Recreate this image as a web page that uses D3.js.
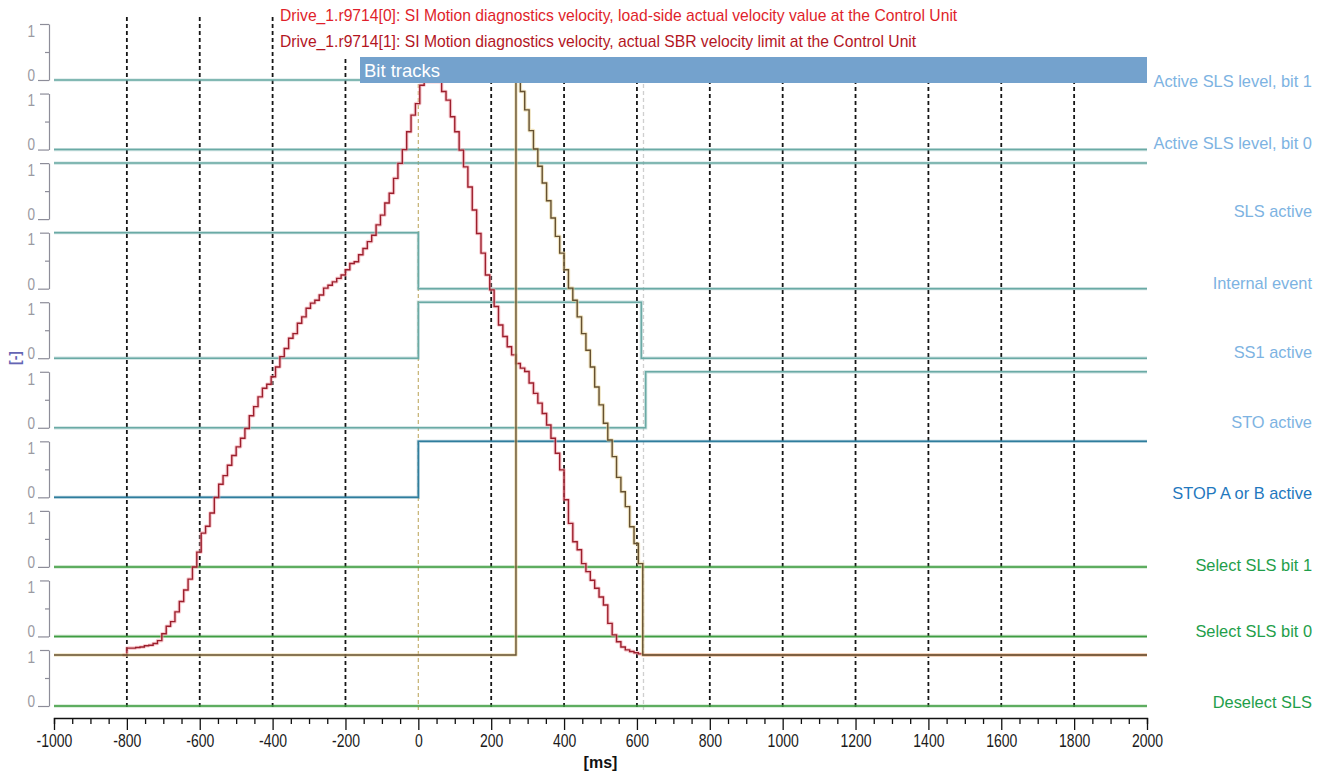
<!DOCTYPE html>
<html>
<head>
<meta charset="utf-8">
<script src="https://cdn.jsdelivr.net/npm/d3@7"></script>
<style>
  html, body { margin: 0; padding: 0; background: #ffffff; }
  svg { display: block; }
</style>
</head>
<body>
<svg id="chart" width="1322" height="773"></svg>
<script>
// ---- Time axis -------------------------------------------------------------
const timeDomain = [-1000, 2000];
const majorTicks = [-1000, -800, -600, -400, -200, 0, 200, 400, 600, 800, 1000, 1200, 1400, 1600, 1800, 2000];
const gridTimes = [-800, -600, -400, -200, 200, 400, 600, 800, 1000, 1200, 1400, 1600, 1800];
const triggerTime = 0;
const cursorTime = 618;

// ---- Bit tracks (top to bottom): [time ms, state] switching points ----------
const trackNames = [
  "Active SLS level, bit 1",
  "Active SLS level, bit 0",
  "SLS active",
  "Internal event",
  "SS1 active",
  "STO active",
  "STOP A or B active",
  "Select SLS bit 1",
  "Select SLS bit 0",
  "Deselect SLS"
];
const bitActiveSlsLevel1 = [[-1000, 0]];
const bitActiveSlsLevel0 = [[-1000, 0]];
const bitSlsActive       = [[-1000, 1]];
const bitInternalEvent   = [[-1000, 1], [0, 0]];
const bitSs1Active       = [[-1000, 0], [0, 1], [612, 0]];
const bitStoActive       = [[-1000, 0], [624, 1]];
const bitStopAorB        = [[-1000, 0], [0, 1]];
const bitSelectSlsBit1   = [[-1000, 0]];
const bitSelectSlsBit0   = [[-1000, 0]];
const bitDeselectSls     = [[-1000, 0]];
const trackSteps = [bitActiveSlsLevel1, bitActiveSlsLevel0, bitSlsActive, bitInternalEvent,
  bitSs1Active, bitStoActive, bitStopAorB, bitSelectSlsBit1, bitSelectSlsBit0, bitDeselectSls];

// ---- Velocity traces, sampled every 12 ms (percent of display range) --------
const SAMPLE_MS = 12;
const actualVelocityStart = -812;   // r9714[0]: load-side actual velocity
const actualVelocity = [0,
  1.2, 1.2, 1.3, 1.4, 1.6, 1.7, 2.0, 2.5, 3.7, 5.0,
  5.8, 7.5, 9.3, 11.3, 13.2, 15.3, 17.9, 21.2, 22.4, 24.7,
  27.4, 29.7, 31.2, 33.0, 34.7, 36.2, 37.7, 39.4, 41.6, 43.2,
  44.9, 46.4, 47.1, 48.4, 50.1, 51.9, 53.3, 55.1, 55.9, 57.7,
  58.8, 60.3, 61.2, 61.7, 62.6, 63.8, 64.3, 64.9, 65.5, 66.1,
  67.0, 68.1, 68.4, 69.6, 70.7, 71.9, 73.0, 74.8, 76.5, 78.6,
  80.3, 82.9, 85.5, 87.9, 91.0, 93.9, 95.9, 99.1, 99.7, 99.7,
  99.7, 99.7, 98.0, 96.5, 93.6, 91.0, 87.8, 84.9, 81.4, 77.4,
  73.3, 69.9, 66.1, 63.5, 60.6, 57.4, 55.4, 53.6, 52.2, 50.7,
  49.9, 49.3, 47.3, 45.5, 43.8, 42.0, 40.0, 37.7, 35.1, 32.2,
  27.0, 22.9, 19.7, 18.3, 15.9, 14.5, 13.0, 11.6, 10.1, 8.7,
  5.5, 3.5, 2.3, 1.4, 0.9, 0.6, 0.4, 0.2, 0
];
const sbrLimitStart = 268;          // r9714[1]: actual SBR velocity limit
const sbrLimit = [
  101.4, 98.0, 94.8, 91.2, 88.0, 85.0, 82.1, 79.0, 76.0, 72.8,
  69.9, 67.0, 63.8, 61.7, 58.8, 55.9, 53.0, 50.1, 46.6, 43.5,
  40.3, 37.4, 34.5, 30.9, 28.4, 25.8, 22.3, 19.4, 15.9, 0
];

const legendLines = [
  "Drive_1.r9714[0]: SI Motion diagnostics velocity, load-side actual velocity value at the Control Unit",
  "Drive_1.r9714[1]: SI Motion diagnostics velocity, actual SBR velocity limit at the Control Unit"
];

// ---- Layout ------------------------------------------------------------------
const plotLeft = 54, plotRight = 1147, gridTop = 17, gridBottom = 710, axisY = 718;
const TRACK_SPAN = 56;
const labelNudge = [1.5, -6, -8, -5.7, -5.7, -5.3, -4.3, -1.9, -5.4, -3.5];
const trackColors = ["#6aaaa5", "#6aaaa5", "#6aaaa5", "#6aaaa5", "#6aaaa5", "#6aaaa5",
  "#2f7d9d", "#3f9d42", "#3f9d42", "#3f9d42"];
const labelColors = ["#7db3e2", "#7db3e2", "#7db3e2", "#7db3e2", "#7db3e2", "#7db3e2",
  "#1f78be", "#1e9e4a", "#1e9e4a", "#1e9e4a"];
const sansFont = "'Liberation Sans', Arial, sans-serif";
const NARROW = "scale(0.8,1)";

const svg = d3.select("#chart");
const x = d3.scaleLinear().domain(timeDomain).range([plotLeft, plotRight]);
const trackZero = d3.scaleLinear().domain([0, trackNames.length - 1]).range([80, 706]);
const vel = d3.scaleLinear().domain([0, 100]).range([655, 80]);

// ---- Dashed time grid ------------------------------------------------------------
svg.append("g").selectAll("line").data(gridTimes).join("line")
  .attr("x1", d => x(d)).attr("x2", d => x(d))
  .attr("y1", gridTop).attr("y2", gridBottom)
  .attr("stroke", "#151515").attr("stroke-width", 1.8)
  .attr("stroke-dasharray", "4,3");

// trigger and cursor markers
svg.append("line")
  .attr("x1", x(triggerTime)).attr("x2", x(triggerTime))
  .attr("y1", 84).attr("y2", gridBottom)
  .attr("stroke", "#c9b67a").attr("stroke-width", 1.3).attr("stroke-dasharray", "4,3");
svg.append("line")
  .attr("x1", x(cursorTime)).attr("x2", x(cursorTime))
  .attr("y1", 84).attr("y2", gridBottom)
  .attr("stroke", "#cfcfcf").attr("stroke-width", 1.3).attr("stroke-dasharray", "4,3");

// ---- Bit track signals -------------------------------------------------------------
const stepLine = d3.line().curve(d3.curveStepAfter);
const tracksG = svg.append("g");
trackSteps.forEach((steps, i) => {
  const z = trackZero(i);
  const pts = steps.map(([t, s]) => [x(t), z - s * TRACK_SPAN]);
  pts.push([x(timeDomain[1]), z - steps[steps.length - 1][1] * TRACK_SPAN]);
  tracksG.append("path").attr("d", stepLine(pts))
    .attr("fill", "none").attr("stroke", trackColors[i])
    .attr("stroke-opacity", 0.35).attr("stroke-width", 3.2);
  tracksG.append("path").attr("d", stepLine(pts))
    .attr("fill", "none").attr("stroke", trackColors[i]).attr("stroke-width", 1.5);
});

// ---- Velocity traces ---------------------------------------------------------------
function sampled(start, values) {
  return values.map((v, k) => ({ t: start + k * SAMPLE_MS, v }));
}
const actualPts = sampled(actualVelocityStart, actualVelocity);
actualPts.push({ t: timeDomain[1], v: 0 });
const sbrPts = [{ t: timeDomain[0], v: 0 }].concat(sampled(sbrLimitStart, sbrLimit));
sbrPts.push({ t: timeDomain[1], v: 0 });

const velLine = d3.line().curve(d3.curveStepAfter).x(d => x(d.t)).y(d => vel(d.v));
const velG = svg.append("g");
function drawTrace(pts, halo, core) {
  velG.append("path").attr("d", velLine(pts)).attr("fill", "none")
    .attr("stroke", halo).attr("stroke-opacity", 0.55).attr("stroke-width", 3.6)
    .attr("stroke-linejoin", "round");
  velG.append("path").attr("d", velLine(pts)).attr("fill", "none")
    .attr("stroke", core).attr("stroke-width", 1.4);
}
drawTrace(actualPts, "#f4a3ab", "#9c1f2d");
drawTrace(sbrPts, "#e6cf92", "#655030");

// ---- Legend and "Bit tracks" header --------------------------------------------------
svg.append("rect").attr("x", 276).attr("y", 0).attr("width", 874).attr("height", 57)
  .attr("fill", "#ffffff");
const legendColors = ["#e01f2b", "#b3161f"];
svg.append("g").selectAll("text").data(legendLines).join("text")
  .attr("x", 280).attr("y", (d, i) => 20.5 + i * 26)
  .attr("fill", (d, i) => legendColors[i])
  .attr("font-family", sansFont).attr("font-size", 15.7)
  .text(d => d);

svg.append("rect").attr("x", 360).attr("y", 57).attr("width", x(timeDomain[1]) - 360).attr("height", 26)
  .attr("fill", "#74a2cd");
svg.append("text").attr("x", 364).attr("y", 76.5).attr("fill", "#ffffff")
  .attr("font-family", sansFont).attr("font-size", 18.5).text("Bit tracks");

// ---- Per-track 0/1 scales on the left -------------------------------------------------
trackNames.forEach((name, i) => {
  const z = trackZero(i);
  const s = d3.scaleLinear().domain([0, 1]).range([z, z - TRACK_SPAN]);
  const g = svg.append("g").attr("transform", "translate(49,0)")
    .call(d3.axisLeft(s).tickValues([0, 0.5, 1]).tickSize(6).tickSizeOuter(0)
      .tickPadding(8).tickFormat(d => d === 0.5 ? "" : d));
  g.select(".domain").attr("stroke", "#8d8d99").attr("stroke-width", 1.2);
  g.selectAll(".tick line").attr("stroke", "#8d8d99").attr("stroke-width", 1.2)
    .attr("x2", d => d === 0 ? -11 : d === 1 ? -9 : -4);
  g.selectAll(".tick text").attr("fill", "#9a9aa2")
    .attr("font-family", sansFont).attr("font-size", 17)
    .attr("x", 0).attr("transform", "translate(-14,0) " + NARROW)
    .attr("dy", d => d === 1 ? "0.72em" : "0.02em");
});

// ---- Track names on the right ----------------------------------------------------------
svg.append("g").selectAll("text").data(trackNames).join("text")
  .attr("x", 1312).attr("y", (d, i) => trackZero(i) + labelNudge[i])
  .attr("dy", "0.35em").attr("text-anchor", "end")
  .attr("fill", (d, i) => labelColors[i])
  .attr("font-family", sansFont).attr("font-size", 16.4)
  .text(d => d);

// y unit
svg.append("text").attr("transform", "translate(20,358) rotate(-90)")
  .attr("text-anchor", "middle").attr("fill", "#6464b4")
  .attr("font-family", sansFont).attr("font-size", 14).attr("font-weight", "bold")
  .text("[-]");

// ---- Time axis ---------------------------------------------------------------------------
const minorTicks = d3.range(timeDomain[0], timeDomain[1] + 1, 50);
const xAxisG = svg.append("g").attr("transform", `translate(0,${axisY})`)
  .call(d3.axisBottom(x).tickValues(minorTicks).tickSizeOuter(0).tickSize(6).tickPadding(5)
    .tickFormat(d => majorTicks.includes(d) ? d : ""));
xAxisG.select(".domain").attr("stroke", "#111").attr("stroke-width", 1.4);
xAxisG.selectAll(".tick line").attr("stroke", "#111").attr("stroke-width", 1.3)
  .attr("y2", d => majorTicks.includes(d) ? 12 : 6);
xAxisG.selectAll(".tick text").attr("fill", "#1a1a1a")
  .attr("font-family", sansFont).attr("font-size", 17.5).attr("y", 17)
  .attr("transform", NARROW);

svg.append("text").attr("x", x(500)).attr("y", 768).attr("text-anchor", "middle")
  .attr("font-family", sansFont).attr("font-size", 16).attr("font-weight", "bold")
  .attr("fill", "#111").text("[ms]");
</script>
</body>
</html>
